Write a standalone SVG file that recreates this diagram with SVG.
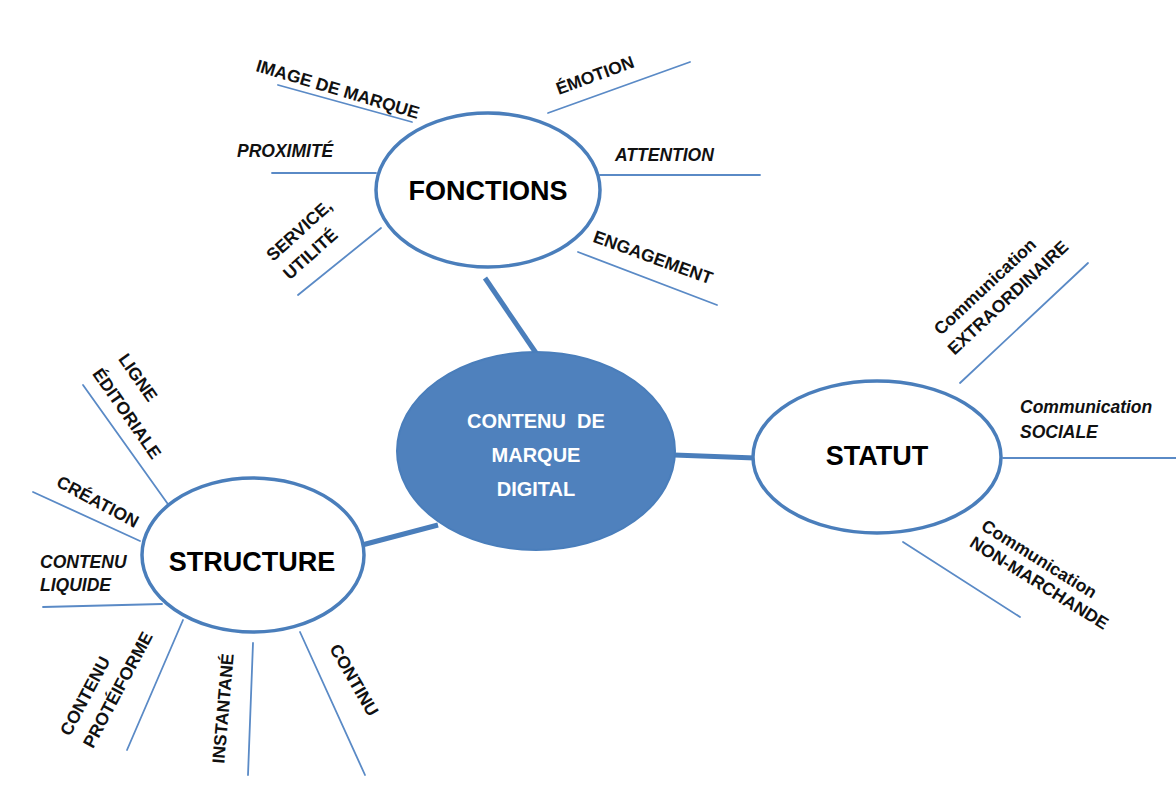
<svg xmlns="http://www.w3.org/2000/svg" width="1176" height="793" viewBox="0 0 1176 793">
<style>
.thin{stroke:#5a8ac6;stroke-width:1.8;fill:none;stroke-linecap:round}
.thick{stroke:#4a7ebb;stroke-width:5;fill:none}
.node{fill:#ffffff;stroke:#4a7ebb;stroke-width:3.5}
.center{fill:#4f81bd;stroke:#4a7ebb;stroke-width:2}
.title{font-family:"Liberation Sans",Arial,sans-serif;font-weight:bold;font-size:27px;fill:#000;text-anchor:middle}
.ctext{font-family:"Liberation Sans",Arial,sans-serif;font-weight:bold;font-size:20px;fill:#ffffff;text-anchor:middle;white-space:pre}
.lab{font-family:"Liberation Sans",Arial,sans-serif;font-weight:bold;font-size:17.5px;fill:#111}
.it{font-style:italic}
.mid{text-anchor:middle}
</style>
<rect width="1176" height="793" fill="#ffffff"/>
<g id="connectors">
<line class="thick" x1="485" y1="278" x2="536" y2="353"/>
<line class="thick" x1="674" y1="455" x2="755" y2="458"/>
<line class="thick" x1="362" y1="545" x2="438" y2="525"/>
<line class="thin" x1="278" y1="85" x2="412" y2="122"/>
<line class="thin" x1="272" y1="173" x2="376" y2="173"/>
<line class="thin" x1="298" y1="295" x2="381" y2="228"/>
<line class="thin" x1="548" y1="113" x2="690" y2="62"/>
<line class="thin" x1="600" y1="175" x2="760" y2="175"/>
<line class="thin" x1="578" y1="252" x2="717" y2="305"/>
<line class="thin" x1="960" y1="383" x2="1088" y2="263"/>
<line class="thin" x1="1003" y1="458" x2="1176" y2="458"/>
<line class="thin" x1="903" y1="542" x2="1020" y2="617"/>
<line class="thin" x1="83" y1="385" x2="170" y2="507"/>
<line class="thin" x1="33" y1="492" x2="140" y2="541"/>
<line class="thin" x1="43" y1="607" x2="162" y2="604"/>
<line class="thin" x1="183" y1="620" x2="127" y2="750"/>
<line class="thin" x1="253" y1="643" x2="248" y2="775"/>
<line class="thin" x1="300" y1="632" x2="365" y2="775"/>
</g>
<g id="node-center">
<ellipse class="center" cx="536" cy="451" rx="139" ry="99"/>
<text class="ctext" x="536" y="428" xml:space="preserve">CONTENU  DE</text>
<text class="ctext" x="536" y="462">MARQUE</text>
<text class="ctext" x="536" y="496">DIGITAL</text>
</g>
<g id="node-fonctions">
<ellipse class="node" cx="488" cy="190" rx="112" ry="77"/>
<text class="title" x="488" y="200">FONCTIONS</text>
</g>
<g id="node-statut">
<ellipse class="node" cx="877" cy="457" rx="124" ry="76"/>
<text class="title" x="877" y="465">STATUT</text>
</g>
<g id="node-structure">
<ellipse class="node" cx="253" cy="555" rx="111" ry="77"/>
<text class="title" x="252" y="571">STRUCTURE</text>
</g>
<g id="labels-fonctions">
<text class="lab mid" transform="translate(336,95) rotate(16.5)">IMAGE DE MARQUE</text>
<text class="lab it" x="237" y="157">PROXIMITÉ</text>
<g transform="translate(273,262) rotate(-42)">
<text class="lab" x="0" y="0">SERVICE,</text>
<text class="lab" x="0" y="25">UTILITÉ</text>
</g>
<text class="lab mid" transform="translate(597,81) rotate(-20)">ÉMOTION</text>
<text class="lab it" x="615" y="161">ATTENTION</text>
<text class="lab mid" transform="translate(651,263) rotate(20)">ENGAGEMENT</text>
</g>
<g id="labels-statut">
<text class="lab mid" transform="translate(989,291) rotate(-43)">Communication</text>
<text class="lab mid" transform="translate(1012,302) rotate(-43)">EXTRAORDINAIRE</text>
<text class="lab it" x="1020" y="413">Communication</text>
<text class="lab it" x="1020" y="438">SOCIALE</text>
<text class="lab mid" transform="translate(1036,564) rotate(32)">Communication</text>
<text class="lab mid" transform="translate(1036,588) rotate(32)">NON-MARCHANDE</text>
</g>
<g id="labels-structure">
<text class="lab mid" transform="translate(133,381) rotate(55)">LIGNE</text>
<text class="lab mid" transform="translate(122,417) rotate(55)">ÉDITORIALE</text>
<text class="lab mid" transform="translate(95,507) rotate(28)">CRÉATION</text>
<text class="lab it" x="40" y="568">CONTENU</text>
<text class="lab it" x="40" y="591">LIQUIDE</text>
<g transform="translate(70,737) rotate(-62)">
<text class="lab" x="0" y="0">CONTENU</text>
<text class="lab" x="0" y="26">PROTÉIFORME</text>
</g>
<text class="lab mid" transform="translate(229,709) rotate(-85)">INSTANTANÉ</text>
<text class="lab mid" transform="translate(349,683) rotate(60)">CONTINU</text>
</g>
</svg>
